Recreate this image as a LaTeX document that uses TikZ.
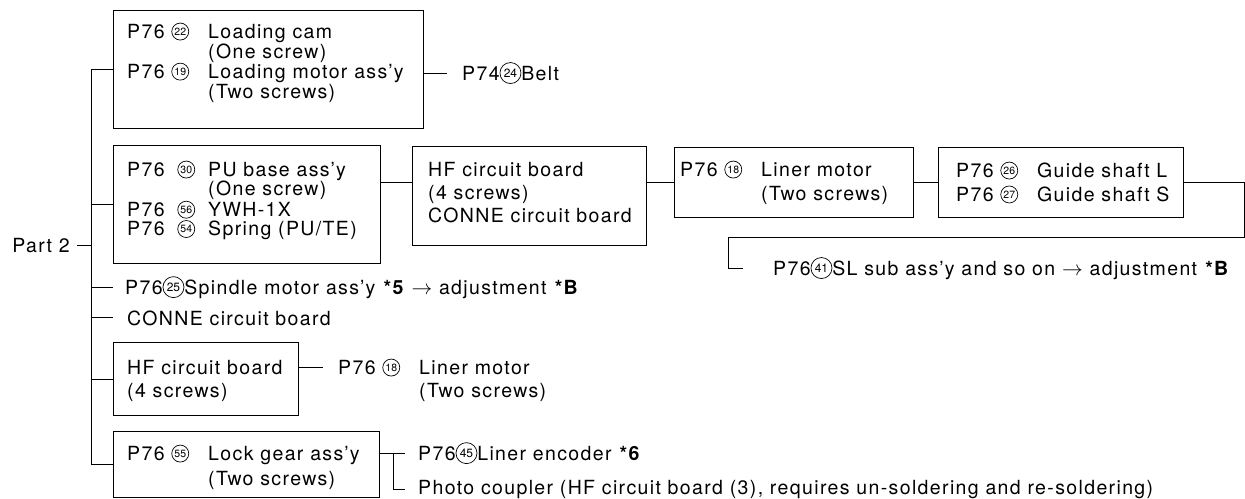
\documentclass[tikz,border=0pt]{standalone}
\usepackage{fontspec}
\setmainfont{TeX Gyre Heros}[LetterSpace=7]
\newfontfamily\numfont{TeX Gyre Heros}
\usetikzlibrary{positioning}

\tikzset{
  part/.style={draw, line width=1.3pt, inner sep=0pt, anchor=north west},
  txt/.style={inner sep=0pt, align=left, anchor=north west, font=\fontsize{19.5}{#1}\selectfont},
  txt/.default=20,
  line/.style={inner sep=0pt, anchor=base west, font=\fontsize{19.5}{20}\selectfont},
  link/.style={line width=0.8pt},
  cnode/.style={circle, draw, line width=0.7pt, inner sep=0pt, minimum size=17pt, font=\numfont\fontsize{10.5}{10.5}\selectfont},
  bignode/.style={cnode, minimum size=21pt, font=\numfont\fontsize{12}{12}\selectfont},
}

\newcommand{\cnum}[1]{\tikz[baseline={([yshift=-3.25pt]cn.base)}]\node[cnode](cn){#1};}
\newcommand{\bignum}[1]{\tikz[baseline={([yshift=-2.7pt]cn.base)}]\node[bignode](cn){#1};}
\newcommand{\pno}[2][0pt]{\makebox[81pt][l]{P76 \hspace{#1}\cnum{#2}}}
\newcommand{\pskip}{\hspace*{81pt}}

\begin{document}
\begin{tikzpicture}[x=1pt, y=-1pt]
  \useasboundingbox (0,0) rectangle (1245,498);
  \coordinate (spine) at (91,0);
  \coordinate (fork) at (393,0);
  \coordinate (slturn) at (728,237);

  % boxes
  \node[part, minimum width=310, minimum height=118] (cam) at (113,10) {};
  \node[part, minimum width=267, minimum height=118] (pu) at (113,145) {};
  \node[part, minimum width=234, minimum height=99] (hf) at (412,146) {};
  \node[part, minimum width=239, minimum height=70] (liner) at (674,147) {};
  \node[part, minimum width=245, minimum height=70] (guide) at (938,147) {};
  \node[part, minimum width=185, minimum height=73] (hfb) at (113,342) {};
  \node[part, minimum width=266, minimum height=66] (lock) at (113,431) {};

  % box texts
  \node[txt] (camtxt) at (127,22.5) {\pno{22}Loading cam\\ \pskip(One screw)\\ \pno{19}Loading motor ass'y\\ \pskip(Two screws)};
  \node[txt=19.3] (putxt) at (127,160.5) {\pno[6pt]{30}PU base ass'y\\ \pskip(One screw)\\ \pno[6pt]{56}YWH-1X\\ \pno[6pt]{54}Spring (PU/TE)};
  \node[txt=23] (hftxt) at (428,162) {HF circuit board\\ (4 screws)\\ CONNE circuit board};
  \node[txt=24] (linertxt) at (680,160.5) {\pno{18}Liner motor\\ \pskip(Two screws)};
  \node[txt=24] (guidetxt) at (956,161.5) {\pno{26}Guide shaft L\\ \pno{27}Guide shaft S};
  \node[txt=23] (hfbtxt) at (127,360) {HF circuit board\\ (4 screws)};
  \node[txt=25] (locktxt) at (127,444.5) {\pno{55}Lock gear ass'y\\ \pskip(Two screws)};

  % free texts
  \node[line, anchor=base east] (part) at (70,252) {Part 2};
  \node[line] (belt) at (462,80) {P74\bignum{24}Belt};
  \node[line] (spindle) at (125,294) {P76\bignum{25}Spindle motor ass'y \textbf{*5} $\rightarrow$ adjustment \textbf{*B}};
  \node[line] (conne) at (127,325) {CONNE circuit board};
  \node[txt=23] (liner2) at (338,358.5) {\pno{18}Liner motor\\ \pskip(Two screws)};
  \node[line] (slsub) at (773,275) {P76\bignum{41}SL sub ass'y and so on $\rightarrow$ adjustment \textbf{*B}};
  \node[line] (enc) at (418,460) {P76\bignum{45}Liner encoder \textbf{*6}};
  \node[line] (photo) at (418,494) {Photo coupler (HF circuit board (3), requires un-soldering and re-soldering)};
  \coordinate (l2) at ([yshift=-8.5pt]liner2.north west);

  % connectors
  \begin{scope}[link]
    \draw (cam.west -| spine) -- (lock.west -| spine);
    \draw (cam.west) -- (cam.west -| spine);
    \draw (pu.west) -- (pu.west -| spine);
    \draw (hfb.west) -- (hfb.west -| spine);
    \draw (lock.west) -- (lock.west -| spine);
    \draw ([xshift=7pt]part.east) -- (part.east -| spine);
    \draw (spindle.west -| spine) -- ([xshift=-12pt]spindle.west);
    \draw (conne.west -| spine) -- ([xshift=-14pt]conne.west);
    \draw (cam.east |- belt.west) -- ([xshift=-15pt]belt.west);
    \draw (pu.east |- liner.west) -- (hf.west |- liner.west);
    \draw (hf.east |- liner.west) -- (liner.west);
    \draw (liner.east) -- (guide.west);
    \draw (guide.east) -- ++(60,0) |- (slturn) |- ([xshift=-30pt]slsub.west);
    \draw (hfb.east |- l2) -- ([xshift=-15pt]l2);
    \draw (lock.east |- enc.west) -- ([xshift=-13pt]enc.west);
    \draw (fork |- enc.west) |- ([xshift=-13pt]photo.west);
  \end{scope}
\end{tikzpicture}
\end{document}
